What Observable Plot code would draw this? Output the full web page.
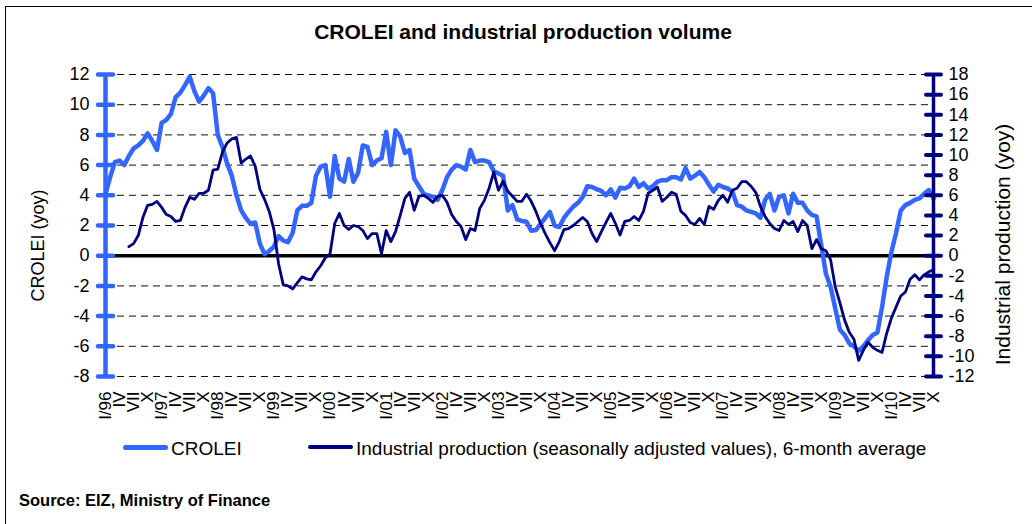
<!DOCTYPE html>
<html><head><meta charset="utf-8">
<script src="https://cdn.jsdelivr.net/npm/d3@7"></script>
<script src="https://cdn.jsdelivr.net/npm/@observablehq/plot@0.6"></script>
<style>
body{margin:0;background:#fff;font-family:Arial,"Liberation Sans",sans-serif;color:#000;}
#wrap{position:relative;width:1032px;height:524px;overflow:hidden;background:#fff;}
#border{position:absolute;left:5px;top:6px;width:2000px;height:2000px;border-left:1px solid #000;border-top:1px solid #000;}
#title{position:absolute;left:0;width:1046px;top:20px;text-align:center;font-weight:bold;font-size:21px;line-height:24px;white-space:nowrap;}
#chart{position:absolute;left:0;top:50px;}
.lg-line{position:absolute;height:5px;border-radius:3px;}
.lg-text{position:absolute;font-size:19px;line-height:19px;white-space:nowrap;}
#source{position:absolute;left:19px;top:492px;font-weight:bold;font-size:16.5px;line-height:16.5px;white-space:nowrap;}
</style>
</head><body>
<div id="wrap">
  <div id="border"></div>
  <div id="title"></div>
  <div id="chart"></div>
  <div id="legend"></div>
  <div id="source"></div>
</div>
<script>
// ---- data (monthly, from I/1996) ----
const startYear = 1996;
const quarterLabels = ["I", "IV", "VII", "X"];
const titleText = "CROLEI and industrial production volume";
const seriesNames = ["CROLEI", "Industrial production (seasonally adjusted values), 6-month average"];
const leftTitle = "CROLEI (yoy)";
const rightTitle = "Industrial production (yoy)";
const sourceText = "Source: EIZ, Ministry of Finance";
const leftTicks = [12, 10, 8, 6, 4, 2, 0, -2, -4, -6, -8];
const rightTicks = [18, 16, 14, 12, 10, 8, 6, 4, 2, 0, -2, -4, -6, -8, -10, -12];

// CROLEI (yoy), Jan 1996 .. Oct 2010 (left axis)
const crolei = [
  4.1, 5.2, 6.2, 6.3, 6.0, 6.6, 7.1, 7.3, 7.6, 8.1, 7.6, 7.0,
  8.8, 9.0, 9.4, 10.5, 10.8, 11.3, 11.85, 10.9, 10.2, 10.6, 11.1, 10.75,
  8.0, 7.2, 6.1, 5.3, 4.0, 3.0, 2.5, 2.1, 2.2, 0.8, 0.1, 0.3,
  0.6, 1.3, 1.0, 0.9, 1.5, 3.0, 3.3, 3.3, 3.5, 5.3, 5.9, 6.0,
  3.9, 6.6, 5.1, 4.9, 6.4, 4.9, 5.5, 7.3, 7.2, 6.0, 6.3, 6.45,
  8.2, 6.0, 8.3, 7.9, 6.8, 7.0, 5.1, 4.6, 4.1, 4.0, 3.9, 3.7,
  4.35, 5.2, 5.7, 6.0, 5.9, 5.7, 7.0, 6.2, 6.3, 6.3, 6.2, 5.6,
  5.45, 5.3, 3.0, 3.35, 2.4, 2.3, 2.25, 1.65, 1.7, 2.1, 2.5, 2.9,
  2.0, 1.9, 2.5, 2.9, 3.25, 3.5, 3.9, 4.6, 4.55, 4.4, 4.3, 4.0,
  4.4, 3.85, 4.5, 4.45, 4.6, 5.1, 4.55, 4.8, 4.45, 4.6, 4.9, 5.0,
  5.0, 5.2, 5.2, 5.05, 5.8, 5.1, 5.3, 5.55, 5.2, 4.7, 4.25, 4.7,
  4.55, 4.45, 4.25, 3.35, 3.25, 3.0, 2.9, 2.8, 2.5, 3.7, 4.1, 3.0,
  3.9, 4.0, 2.8, 4.1, 3.5, 3.5, 3.0, 2.7, 2.6, 0.7, -1.2, -2.05,
  -3.5, -4.9, -5.25, -5.8, -6.0, -6.3, -6.0, -5.6, -5.25, -5.1, -3.4, -1.4,
  0.25, 1.5, 3.0, 3.35, 3.5, 3.7, 3.8, 4.1, 4.35, 3.8
];

// Industrial production (yoy, 6-month avg), Jun 1996 .. Oct 2010 (right axis)
const ipStart = 5;
const industrial = [
  0.9, 1.2, 2.0, 3.8, 5.0, 5.1, 5.4,
  4.8, 4.1, 3.9, 3.4, 3.5, 4.8, 5.8, 5.6, 6.2, 6.2, 6.5, 8.5,
  8.6, 10.3, 11.2, 11.6, 11.75, 9.2, 9.6, 9.9, 8.9, 6.6, 5.6, 4.4,
  2.6, -0.8, -2.9, -3.0, -3.3, -2.7, -2.1, -2.3, -2.4, -1.6, -1.0, -0.2,
  0.2, 3.2, 4.2, 3.0, 2.6, 3.0, 2.9, 2.5, 1.7, 2.2, 2.2, 0.2,
  2.5, 1.4, 2.4, 4.0, 5.7, 6.3, 4.5, 5.9, 6.0, 5.7, 5.3, 5.9,
  6.0, 5.3, 4.1, 3.4, 2.9, 1.6, 2.7, 2.5, 4.7, 5.5, 6.7, 8.3,
  6.5, 7.4, 6.4, 5.9, 5.4, 5.4, 6.1, 5.4, 4.4, 3.2, 2.2, 1.3,
  0.5, 1.4, 2.6, 2.7, 3.0, 3.4, 3.8, 3.4, 2.2, 1.4, 2.4, 3.3,
  4.2, 3.2, 2.05, 3.4, 3.5, 3.9, 3.5, 4.4, 6.2, 6.5, 6.8, 5.4,
  5.8, 6.3, 6.1, 4.4, 4.0, 3.3, 3.1, 3.7, 3.1, 4.9, 4.6, 5.5,
  6.0, 5.3, 6.5, 6.7, 7.35, 7.35, 6.9, 6.3, 4.9, 3.9, 3.2, 2.7,
  2.5, 3.5, 3.1, 3.4, 2.4, 3.5, 3.0, 0.7, 1.6, 0.7, 0.5, -0.4,
  -3.1, -4.7, -6.4, -7.6, -8.3, -10.4, -9.4, -8.6, -9.1, -9.4, -9.6, -7.7,
  -6.2, -5.1, -4.0, -3.6, -2.35, -1.9, -2.4, -1.9, -1.6, -1.4
];

// ---- styling ----
const lightBlue = "#3366ff";
const navy = "#000080";
const font = 'Arial, "Liberation Sans", sans-serif';
const ratio = (rightTicks[0] - rightTicks[rightTicks.length - 1]) / (leftTicks[0] - leftTicks[leftTicks.length - 1]);
const yDomain = [d3.min(leftTicks), d3.max(leftTicks)];
const xDomain = [0, crolei.length - 1];

const croleiData = crolei.map((v, i) => ({m: i, v}));
const ipData = industrial.map((v, i) => ({m: i + ipStart, v: v / ratio}));
const xTicks = d3.range(0, crolei.length, 3);
const xLabel = i => (i % 12 === 0
  ? quarterLabels[0] + "/" + String((startYear + i / 12) % 100).padStart(2, "0")
  : quarterLabels[(i % 12) / 3]);

// horizontal bar symbol for axis tick marks crossing the axis line
const hbar = {draw(ctx) { ctx.moveTo(-7.5, 0); ctx.lineTo(7.5, 0); }};

const chart = Plot.plot({
  width: 1032,
  height: 380,
  marginTop: 24,
  marginBottom: 54,
  marginLeft: 105,
  marginRight: 99,
  x: {domain: xDomain, label: null},
  y: {domain: yDomain, label: null},
  style: {fontFamily: font, fontSize: "18px", color: "#000", background: "transparent", overflow: "visible"},
  marks: [
    Plot.ruleY(leftTicks.filter(v => v !== 0), {stroke: "#111", strokeWidth: 1, strokeDasharray: "7,5"}),
    Plot.ruleY([0], {stroke: "#000", strokeWidth: 3.5}),
    Plot.line(croleiData, {x: "m", y: "v", stroke: lightBlue, strokeWidth: 4.5, strokeLinejoin: "round", strokeLinecap: "round"}),
    Plot.line(ipData, {x: "m", y: "v", stroke: navy, strokeWidth: 2.8, strokeLinejoin: "round", strokeLinecap: "round"}),
    // left axis
    Plot.ruleX([xDomain[0]], {y1: yDomain[0], y2: yDomain[1], stroke: lightBlue, strokeWidth: 4.5}),
    Plot.dot(leftTicks, {x: () => xDomain[0], y: d => d, symbol: hbar, fill: "none", stroke: lightBlue, strokeWidth: 4.5, strokeLinecap: "round"}),
    Plot.axisY(leftTicks, {anchor: "left", label: null, tickSize: 0, tickPadding: 16, fontSize: 18, tickFormat: d => String(d)}),
    // right axis
    Plot.ruleX([xDomain[1]], {y1: yDomain[0], y2: yDomain[1], stroke: navy, strokeWidth: 3.5}),
    Plot.dot(rightTicks.map(v => v / ratio), {x: () => xDomain[1], y: d => d, symbol: hbar, fill: "none", stroke: navy, strokeWidth: 4, strokeLinecap: "round"}),
    Plot.axisY(rightTicks.map(v => v / ratio), {anchor: "right", label: null, tickSize: 0, tickPadding: 15, fontSize: 18, tickFormat: d => String(Math.round(d * ratio))}),
    // x axis labels
    Plot.axisX(xTicks, {anchor: "bottom", label: null, tickSize: 0, tickPadding: 15, tickRotate: -90, fontSize: 17, tickFormat: xLabel}),
    // axis titles
    Plot.text([leftTitle], {frameAnchor: "left", rotate: -90, dx: -67, dy: 20, textAnchor: "middle", fontSize: 18}),
    Plot.text([rightTitle], {frameAnchor: "right", rotate: -90, dx: 70, dy: 19, textAnchor: "middle", fontSize: 21})
  ]
});
document.getElementById("chart").appendChild(chart);

document.getElementById("title").textContent = titleText;
document.getElementById("source").textContent = sourceText;

const legend = document.getElementById("legend");
const legendItems = [
  {name: seriesNames[0], color: lightBlue, left: 123, thick: 5},
  {name: seriesNames[1], color: navy, left: 308, thick: 3.5}
];
legendItems.forEach(it => {
  const l = document.createElement("div");
  l.className = "lg-line";
  l.style.left = it.left + "px";
  l.style.width = "45px";
  l.style.height = it.thick + "px";
  l.style.top = (447 - it.thick / 2) + "px";
  l.style.background = it.color;
  legend.appendChild(l);
  const t = document.createElement("div");
  t.className = "lg-text";
  t.style.left = (it.left + 48) + "px";
  t.style.top = "439px";
  t.textContent = it.name;
  legend.appendChild(t);
});
</script>
</body></html>
